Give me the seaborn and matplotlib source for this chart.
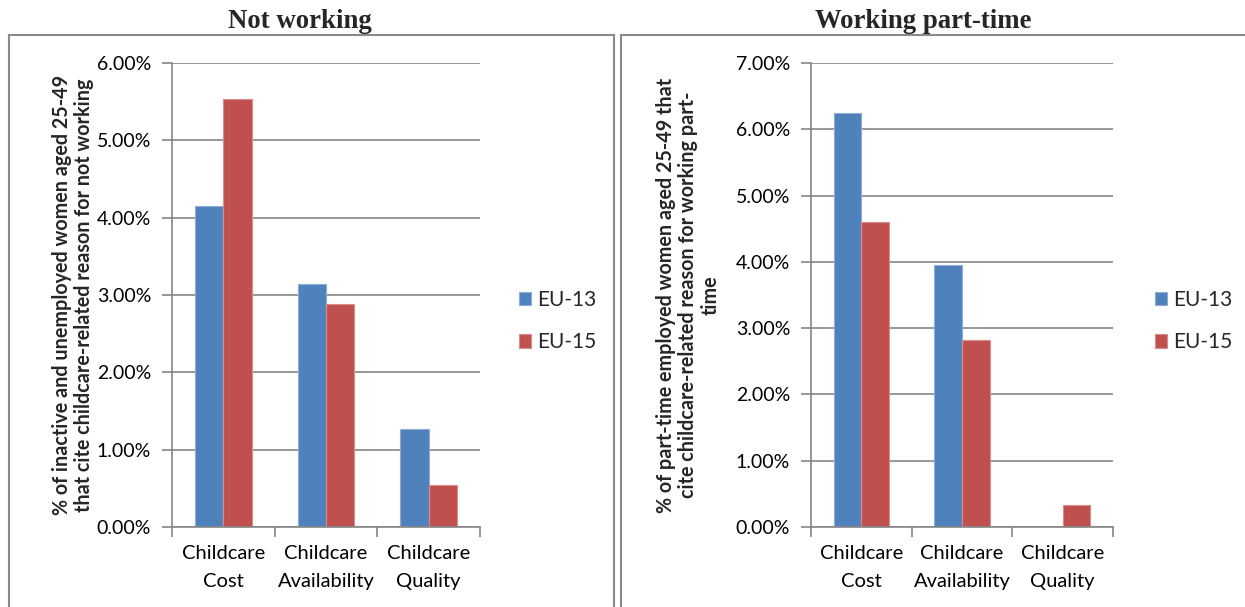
import matplotlib
matplotlib.use("Agg")
import matplotlib.pyplot as plt
import matplotlib.colors as mcolors
from matplotlib.patches import Rectangle
from matplotlib.ticker import FixedLocator, FuncFormatter
import seaborn as sns
import pandas as pd

categories = ["Childcare\nCost", "Childcare\nAvailability", "Childcare\nQuality"]
series = ["EU-13", "EU-15"]
not_working_eu13 = [4.15, 3.14, 1.27]
not_working_eu15 = [5.54, 2.88, 0.54]
part_time_eu13 = [6.24, 3.95, 0.0]
part_time_eu15 = [4.60, 2.82, 0.33]
left_ticks = [0, 1, 2, 3, 4, 5, 6]
right_ticks = [0, 1, 2, 3, 4, 5, 6, 7]
titles = ["Not working", "Working part-time"]
ylabels = [
    "% of inactive and unemployed women aged 25-49\nthat cite childcare-related reason for not working",
    "% of part-time employed women aged 25-49 that\ncite childcare-related reason for working part-\ntime",
]
palette = {"EU-13": "#4F81BD", "EU-15": "#C0504D"}

sns.set_theme(style="white")
plt.rcParams["font.family"] = ["Lato", "DejaVu Sans"]

W, H = 1245, 607
fig = plt.figure(figsize=(W / 100, H / 100), dpi=100)

def make_df(a, b):
    rows = []
    for c, v in zip(categories, a):
        rows.append({"cat": c, "series": "EU-13", "val": v})
    for c, v in zip(categories, b):
        rows.append({"cat": c, "series": "EU-15", "val": v})
    return pd.DataFrame(rows)

grey = "#868686"
panels = [
    dict(df=make_df(not_working_eu13, not_working_eu15), ticks=left_ticks,
         ax=(172, 63, 480, 527), box=(9, 35, 614), title_x=300,
         ylab_x=73, leg_x=500),
    dict(df=make_df(part_time_eu13, part_time_eu15), ticks=right_ticks,
         ax=(811, 63, 1113, 527), box=(621, 35, 1250), title_x=923,
         ylab_x=688, leg_x=1136),
]

for i, p in enumerate(panels):
    x0, y0, x1, y1 = p["ax"]
    ax = fig.add_axes([x0 / W, 1 - y1 / H, (x1 - x0) / W, (y1 - y0) / H])
    sns.barplot(data=p["df"], x="cat", y="val", hue="series", palette=palette,
                width=0.55, ax=ax, saturation=1, legend=True)
    for patch in ax.patches:
        fc = mcolors.to_rgb(patch.get_facecolor())
        light = tuple(c + (1 - c) * 0.35 for c in fc)
        patch.set_edgecolor(light)
        patch.set_linewidth(0.8)
    ax.set_xlim(-0.5, 2.5)
    ax.set_ylim(0, p["ticks"][-1])
    ax.yaxis.set_major_locator(FixedLocator(p["ticks"]))
    ax.yaxis.set_major_formatter(FuncFormatter(lambda v, pos: f"{v:.2f}%"))
    ax.grid(axis="y", color=grey, linewidth=1.2)
    ax.set_axisbelow(True)
    for s in ["top", "right"]:
        ax.spines[s].set_visible(False)
    for s in ["left", "bottom"]:
        ax.spines[s].set_color(grey)
        ax.spines[s].set_linewidth(1.2)
    ax.tick_params(axis="y", length=7, width=1.2, color=grey, pad=8,
                   labelsize=14, labelcolor="black", left=True)
    ax.tick_params(axis="x", which="major", length=0, pad=13,
                   labelsize=14.5, labelcolor="black")
    ax.set_xticks([-0.5, 0.5, 1.5, 2.5], minor=True)
    ax.tick_params(axis="x", which="minor", length=7, width=1.2, color=grey,
                   bottom=True)
    for lab in ax.get_xticklabels():
        lab.set_linespacing(1.75)
    ax.set_xlabel("")
    ax.set_ylabel("")

    h, l = ax.get_legend_handles_labels()
    ax.legend(h, l, loc="center left",
              bbox_to_anchor=(p["leg_x"] / W, 1 - 321 / H),
              bbox_transform=fig.transFigure, frameon=False,
              fontsize=15, handlelength=0.6, handleheight=0.6,
              handletextpad=0.3, labelspacing=1.1)

    bx0, by0, bx1 = p["box"]
    fig.patches.append(Rectangle((bx0 / W, -0.01), (bx1 - bx0) / W, 1 - by0 / H + 0.01,
                                 transform=fig.transFigure, fill=False,
                                 edgecolor="#8a8a8a", linewidth=1.5))
    fig.text(p["title_x"] / W, 1 - 21 / H, titles[i], ha="center", va="center",
             fontsize=19.3, fontweight="bold", family=["Liberation Serif", "DejaVu Serif"])
    fig.text(p["ylab_x"] / W, 1 - 295 / H, ylabels[i], ha="center", va="center",
             rotation=90, multialignment="center", fontsize=14.2,
             fontweight="bold", linespacing=1.15)

fig.savefig("out.png", dpi=100)
